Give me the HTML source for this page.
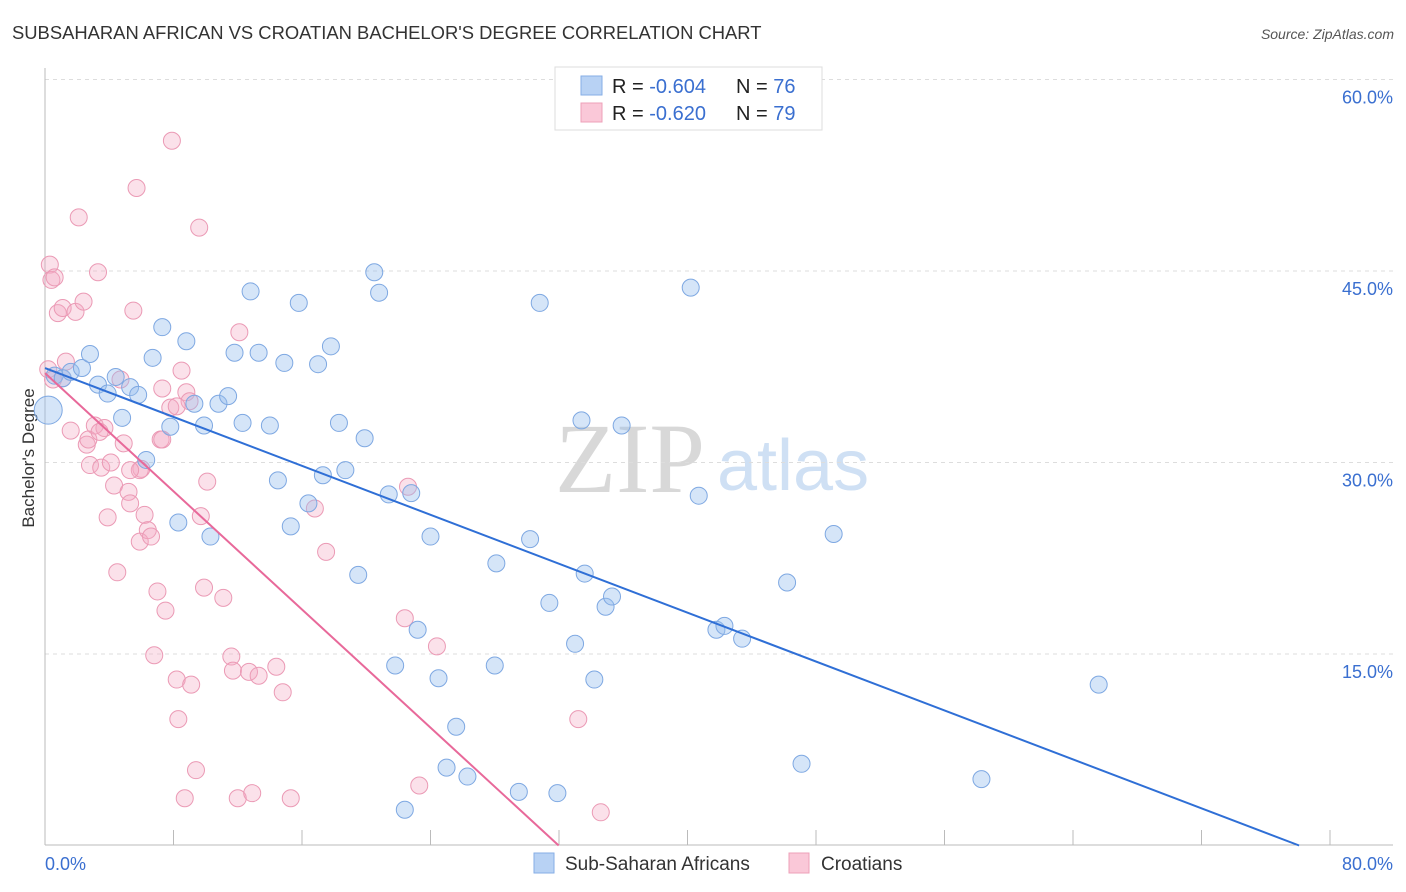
<!DOCTYPE html>
<html><head><meta charset="utf-8"><style>
body{margin:0;background:#fff;font-family:"Liberation Sans",sans-serif;}
svg{display:block}
</style></head><body>
<svg id="chart" width="1406" height="892" xmlns="http://www.w3.org/2000/svg">
<text x="12" y="39" font-size="18.4" fill="#333">SUBSAHARAN AFRICAN VS CROATIAN BACHELOR'S DEGREE CORRELATION CHART</text>
<text x="1394" y="39" font-size="14" fill="#555" font-style="italic" text-anchor="end">Source: ZipAtlas.com</text>
<g>
<text x="555" y="492" font-size="100" font-family="Liberation Serif,serif" fill="#d8d8d8">ZIP</text>
<text x="717" y="490" font-size="72" fill="#cfe0f4">atlas</text>
</g>
<g id="grid"></g>
<g id="axes"></g>
<text x="34" y="458" font-size="17" fill="#333" text-anchor="middle" transform="rotate(-90 34 458)">Bachelor's Degree</text>
<g id="marks"></g>
<g>
<rect x="555" y="67" width="267" height="63" fill="#fff" stroke="#ddd"/>
<rect x="581" y="76" width="21" height="19" fill="#b8d2f4" stroke="#86aee6"/>
<rect x="581" y="103" width="21" height="19" fill="#fac8d8" stroke="#eea0b8"/>
<text x="612" y="93" font-size="20" fill="#222">R = <tspan fill="#3a6fd0">-0.604</tspan><tspan x="736">N = </tspan><tspan fill="#3a6fd0">76</tspan></text>
<text x="612" y="120" font-size="20" fill="#222">R = <tspan fill="#3a6fd0">-0.620</tspan><tspan x="736">N = </tspan><tspan fill="#3a6fd0">79</tspan></text>
</g>
<g>
<rect x="534" y="853" width="20" height="20" fill="#b8d2f4" stroke="#86aee6"/>
<text x="565" y="870" font-size="19" fill="#333">Sub-Saharan Africans</text>
<rect x="789" y="853" width="20" height="20" fill="#fac8d8" stroke="#eea0b8"/>
<text x="821" y="870" font-size="19" fill="#333">Croatians</text>
</g>
</svg>
<script>
const blueX=[0.2,0.6,1.1,1.6,2.3,2.8,3.3,3.9,4.4,4.8,5.3,5.8,6.3,6.7,7.3,7.8,8.3,8.8,9.3,9.9,10.3,10.8,11.4,11.8,12.3,12.8,13.3,14.0,14.5,14.9,15.3,15.8,16.4,17.0,17.3,17.8,18.3,18.7,19.5,19.9,20.5,20.8,21.4,21.8,22.8,23.2,24.0,24.5,25.0,25.6,26.3,28.0,28.1,29.5,30.2,30.8,31.4,31.9,33.0,33.4,33.6,34.2,34.9,35.3,35.9,40.2,40.7,41.8,42.3,43.4,46.2,47.1,49.1,58.3,65.6,22.4];
const blueY=[34.1,36.8,36.6,37.1,37.4,38.5,36.1,35.4,36.7,33.5,35.9,35.3,30.2,38.2,40.6,32.8,25.3,39.5,34.6,32.9,24.2,34.6,35.2,38.6,33.1,43.4,38.6,32.9,28.6,37.8,25.0,42.5,26.8,37.7,29.0,39.1,33.1,29.4,21.2,31.9,44.9,43.3,27.5,14.1,27.6,16.9,24.2,13.1,6.1,9.3,5.4,14.1,22.1,4.2,24.0,42.5,19.0,4.1,15.8,33.3,21.3,13.0,18.7,19.5,32.9,43.7,27.4,16.9,17.2,16.2,20.6,6.4,24.4,5.2,12.6,2.8];
const pinkX=[0.3,0.4,0.6,0.2,0.5,0.8,1.1,1.3,1.6,1.9,2.1,2.4,2.6,2.8,3.1,3.3,3.5,3.7,3.9,4.1,4.3,4.5,4.7,4.9,5.2,5.3,5.5,5.7,5.9,6.0,6.2,6.4,6.6,6.8,7.0,7.2,7.3,7.5,7.8,7.9,8.2,8.3,8.5,8.7,8.8,9.0,9.1,9.4,9.6,9.7,9.9,10.1,11.1,11.6,11.7,12.0,12.1,12.7,12.9,13.3,14.4,14.8,15.3,16.8,17.5,22.4,22.6,24.4,23.3,33.2,34.6,2.7,3.4,1.1,5.9,7.3,8.2,5.3];
const pinkY=[45.5,44.3,44.5,37.3,36.5,41.7,42.1,37.9,32.5,41.8,49.2,42.6,31.4,29.8,32.9,44.9,29.6,32.7,25.7,30.0,28.2,21.4,36.5,31.5,27.7,26.8,41.9,51.5,23.8,29.5,25.9,24.7,24.2,14.9,19.9,31.8,35.8,18.4,34.3,55.2,13.0,9.9,37.2,3.7,35.5,34.8,12.6,5.9,48.4,25.8,20.2,28.5,19.4,14.8,13.7,3.7,40.2,13.6,4.1,13.3,14.0,12.0,3.7,26.4,23.0,17.8,28.1,15.6,4.7,9.9,2.6,31.8,32.4,36.6,29.4,31.8,34.4,29.4];
const blueSize=[14];
const blueTrend=[37.4,-0.479];
const pinkTrend=[37.0,-1.157];
const yTicks=[15,30,45,60];
const xTickVals=[0,8,16,24,32,40,48,56,64,72,80];
const NS="http://www.w3.org/2000/svg";
const X=v=>45+v*(1285/80);
const Y=v=>845.5-v*(191.5/15);
function mk(tag,attrs,parent){const e=document.createElementNS(NS,tag);for(const k in attrs)e.setAttribute(k,attrs[k]);parent.appendChild(e);return e;}
const grid=document.getElementById('grid'),axes=document.getElementById('axes'),marks=document.getElementById('marks');
yTicks.forEach(t=>{
 const l=mk('line',{x1:45,x2:1393,y1:Y(t),y2:Y(t),stroke:'#ddd','stroke-dasharray':'4,4'},grid);
 
 
 const tx=mk('text',{x:1393,y:Y(t)+24,'font-size':18,fill:'#3a6fd0','text-anchor':'end'},axes);
 tx.textContent=t.toFixed(1)+'%';
 
 
});
const ax=mk('line',{x1:45,x2:45,y1:68,y2:845,stroke:'#bbb'},axes);


const bx=mk('line',{x1:45,x2:1393,y1:845,y2:845,stroke:'#bbb'},axes);


xTickVals.forEach(t=>{
 const l=mk('line',{x1:X(t),x2:X(t),y1:830,y2:845,stroke:'#bbb'},axes);
 
 
});
const xl0=mk('text',{x:45,y:870,'font-size':18,fill:'#3a6fd0'},axes);xl0.textContent='0.0%';


const xl1=mk('text',{x:1393,y:870,'font-size':18,fill:'#3a6fd0','text-anchor':'end'},axes);xl1.textContent='80.0%';


pinkX.forEach((v,i)=>{
 const c=mk('circle',{cx:X(v),cy:Y(pinkY[i]),r:8.5,fill:'rgba(244,170,195,0.35)',stroke:'#eb9ab5','stroke-width':1},marks);
 
 
});
blueX.forEach((v,i)=>{
 const c=mk('circle',{cx:X(v),cy:Y(blueY[i]),r:i<blueSize.length?blueSize[i]:8.5,fill:'rgba(150,190,238,0.4)',stroke:'#7ea8e2','stroke-width':1},marks);
 
 
});
const bEnd=-blueTrend[0]/blueTrend[1];
const bl=mk('line',{x1:X(0),y1:Y(blueTrend[0]),x2:X(bEnd),y2:Y(0),stroke:'#2f6fd6','stroke-width':2},marks);


const pEnd=-pinkTrend[0]/pinkTrend[1];
const pl=mk('line',{x1:X(0),y1:Y(pinkTrend[0]),x2:X(pEnd),y2:Y(0),stroke:'#e8699a','stroke-width':2},marks);


</script>
</body></html>
